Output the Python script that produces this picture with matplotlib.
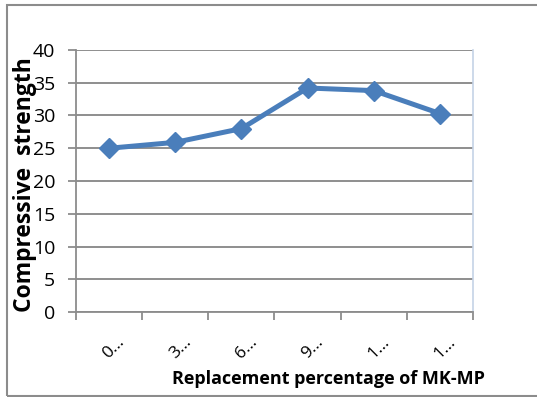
import matplotlib
matplotlib.use("Agg")
import matplotlib.pyplot as plt
from matplotlib.patches import Rectangle
from matplotlib.transforms import ScaledTranslation

categories = ["0…", "3…", "6…", "9…", "1…", "1…"]
strength = [25.0, 25.9, 28.0, 34.2, 33.8, 30.3]
y_ticks = [0, 5, 10, 15, 20, 25, 30, 35, 40]
x_title = "Replacement percentage of MK-MP"
y_title = "Compressive  strength"

W, H = 537, 397
fig = plt.figure(figsize=(W / 100, H / 100), dpi=100)
plt.rcParams['font.family'] = ['Open Sans', 'DejaVu Sans']

# outer chart frame
fig.patches.append(Rectangle((7 / W, 1 / H), 1.2, 1 - 5.5 / H, transform=fig.transFigure,
                             fill=False, edgecolor="#8c8c8c", linewidth=1.5, zorder=0))

ax = fig.add_axes([76 / W, 1 - 312 / H, (473 - 76) / W, (312 - 50) / H])
x = list(range(len(categories)))
ax.plot(x, strength, color="#4A7EBB", linewidth=3.6, marker="D", markersize=10,
        markerfacecolor="#4A7EBB", markeredgecolor="#4A7EBB", zorder=3)

ax.set_xlim(-0.5, len(categories) - 0.5)
ax.set_ylim(0, 40)
ax.set_yticks(y_ticks)
ax.set_yticklabels([str(t) for t in y_ticks], fontsize=14)
ax.yaxis.grid(True, color="#868686", linewidth=1.3)
ax.set_axisbelow(True)

ax.set_xticks([i - 0.5 for i in range(len(categories) + 1)])
ax.set_xticklabels([])
ax.set_xticks(x, minor=True)
ax.set_xticklabels(categories, minor=True, rotation=45, fontsize=12.5, ha="center", va="center",
                   rotation_mode="anchor")
ax.tick_params(axis="x", which="minor", length=0, pad=26)
ax.tick_params(axis="x", which="major", length=6, color="#8c8c8c", width=1.3)
ax.tick_params(axis="y", length=6, color="#8c8c8c", width=1.3, pad=9)
shift = ScaledTranslation(5 / 100, 0, fig.dpi_scale_trans)
for lbl in ax.get_xticklabels(minor=True):
    lbl.set_transform(lbl.get_transform() + shift)

for s in ["left", "bottom"]:
    ax.spines[s].set_color("#8c8c8c")
    ax.spines[s].set_linewidth(1.3)
ax.spines["top"].set_visible(False)
ax.spines["right"].set_color("#c5d3e6")
ax.spines["right"].set_linewidth(1.2)

fig.text(328 / W, 1 - 379 / H, x_title, fontsize=13, fontweight="bold",
         ha="center", va="center")
fig.text(25 / W, 1 - 185 / H, y_title, fontsize=16.5, fontweight="bold",
         ha="center", va="center", rotation=90)

fig.savefig("out.png", dpi=100)
